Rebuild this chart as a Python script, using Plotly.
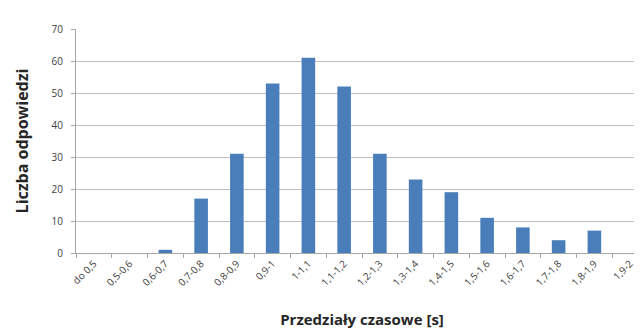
import plotly.graph_objects as go

categories = ["do 0,5", "0,5-0,6", "0,6-0,7", "0,7-0,8", "0,8-0,9", "0,9-1", "1-1,1",
              "1,1-1,2", "1,2-1,3", "1,3-1,4", "1,4-1,5", "1,5-1,6", "1,6-1,7",
              "1,7-1,8", "1,8-1,9", "1,9-2"]
values = [0, 0, 1, 17, 31, 53, 61, 52, 31, 23, 19, 11, 8, 4, 7, 0]
y_ticks = [0, 10, 20, 30, 40, 50, 60, 70]

fig = go.Figure(go.Bar(x=categories, y=values, marker_color="#4a7ebb",
                       marker_line_width=0))
fig.update_layout(
    width=642, height=334,
    margin=dict(l=68, r=2, t=21, b=89),
    plot_bgcolor="white", paper_bgcolor="white",
    bargap=0.62,
    showlegend=False,
    font=dict(family="Open Sans, sans-serif", color="#404040"),
)
fig.update_xaxes(
    title=dict(text="<b>Przedziały czasowe [s]</b>", font=dict(size=15, color="#262626"),
               standoff=26),
    tickangle=-45, tickfont=dict(size=10, color="#404040"),
    showline=True, linecolor="#a6a6a6", linewidth=1,
    ticks="outside", ticklen=4, tickcolor="#a6a6a6", tickson="boundaries",
    showgrid=False,
)
fig.update_yaxes(
    title=dict(text="<b>Liczba odpowiedzi</b>", font=dict(size=16, color="#262626"),
               standoff=18),
    range=[0, 70], tickvals=y_ticks, tickfont=dict(size=10, color="#404040"),
    ticklabelstandoff=6,
    showgrid=True, gridcolor="#bfbfbf", gridwidth=1,
    showline=True, linecolor="#a6a6a6", linewidth=1,
    ticks="outside", ticklen=4, tickcolor="#a6a6a6",
    zeroline=False,
)
fig.write_html("out.html")
